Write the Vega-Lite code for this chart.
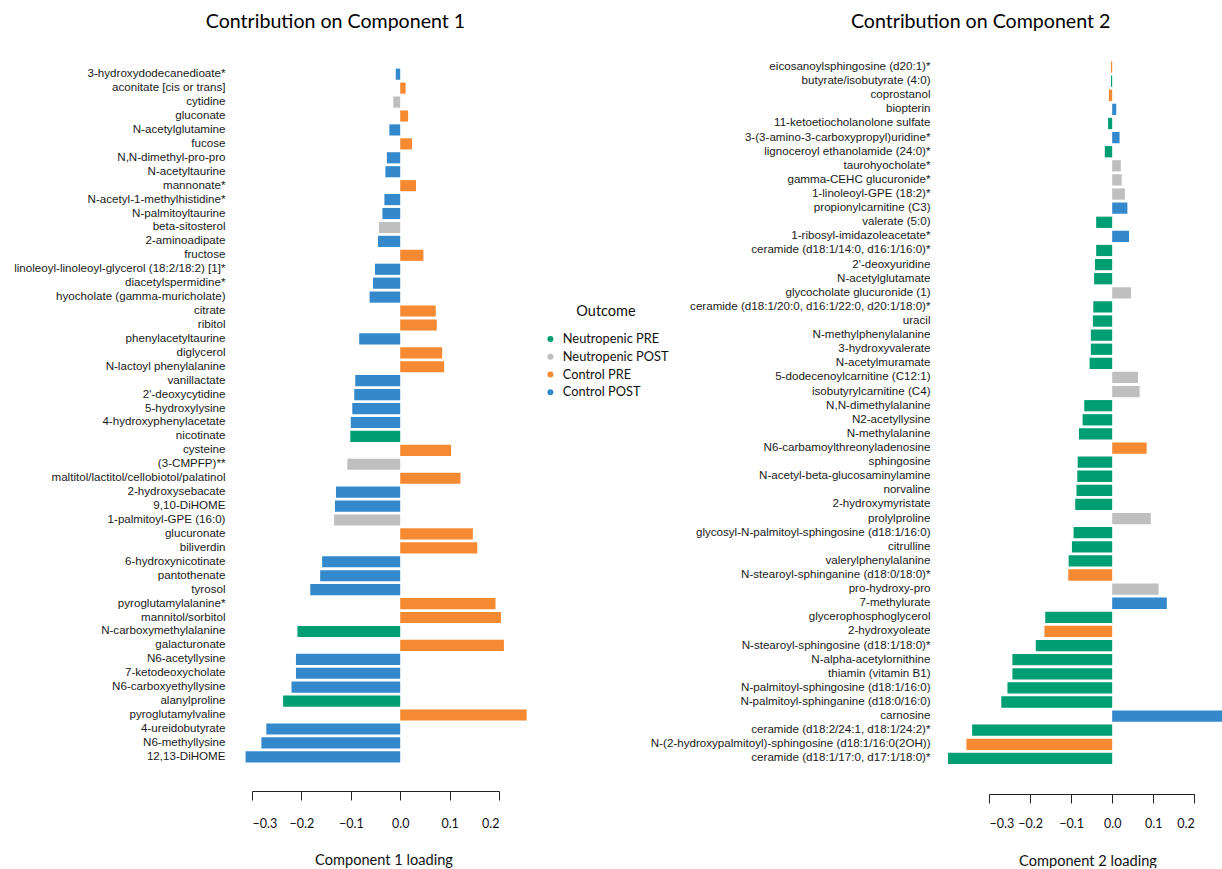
{
  "$schema": "https://vega.github.io/schema/vega-lite/v6.json",
  "padding": {"left": 13, "top": 11, "right": 0, "bottom": 0},
  "background": "white",
  "bounds": "flush",
  "spacing": 490,
  "config": {
    "view": {"stroke": null},
    "axis": {"grid": false},
    "title": {"font": "Lato", "fontSize": 19.6, "fontWeight": "normal", "color": "black"}
  },
  "datasets": {
    "comp1": [
      {"name": "3-hydroxydodecanedioate*", "loading": -0.009, "outcome": "Control POST"},
      {"name": "aconitate [cis or trans]", "loading": 0.011, "outcome": "Control PRE"},
      {"name": "cytidine", "loading": -0.014, "outcome": "Neutropenic POST"},
      {"name": "gluconate", "loading": 0.016, "outcome": "Control PRE"},
      {"name": "N-acetylglutamine", "loading": -0.022, "outcome": "Control POST"},
      {"name": "fucose", "loading": 0.024, "outcome": "Control PRE"},
      {"name": "N,N-dimethyl-pro-pro", "loading": -0.027, "outcome": "Control POST"},
      {"name": "N-acetyltaurine", "loading": -0.030, "outcome": "Control POST"},
      {"name": "mannonate*", "loading": 0.032, "outcome": "Control PRE"},
      {"name": "N-acetyl-1-methylhistidine*", "loading": -0.032, "outcome": "Control POST"},
      {"name": "N-palmitoyltaurine", "loading": -0.036, "outcome": "Control POST"},
      {"name": "beta-sitosterol", "loading": -0.043, "outcome": "Neutropenic POST"},
      {"name": "2-aminoadipate", "loading": -0.045, "outcome": "Control POST"},
      {"name": "fructose", "loading": 0.047, "outcome": "Control PRE"},
      {"name": "linoleoyl-linoleoyl-glycerol (18:2/18:2) [1]*", "loading": -0.051, "outcome": "Control POST"},
      {"name": "diacetylspermidine*", "loading": -0.055, "outcome": "Control POST"},
      {"name": "hyocholate (gamma-muricholate)", "loading": -0.062, "outcome": "Control POST"},
      {"name": "citrate", "loading": 0.072, "outcome": "Control PRE"},
      {"name": "ribitol", "loading": 0.074, "outcome": "Control PRE"},
      {"name": "phenylacetyltaurine", "loading": -0.083, "outcome": "Control POST"},
      {"name": "diglycerol", "loading": 0.085, "outcome": "Control PRE"},
      {"name": "N-lactoyl phenylalanine", "loading": 0.089, "outcome": "Control PRE"},
      {"name": "vanillactate", "loading": -0.091, "outcome": "Control POST"},
      {"name": "2'-deoxycytidine", "loading": -0.093, "outcome": "Control POST"},
      {"name": "5-hydroxylysine", "loading": -0.097, "outcome": "Control POST"},
      {"name": "4-hydroxyphenylacetate", "loading": -0.100, "outcome": "Control POST"},
      {"name": "nicotinate", "loading": -0.101, "outcome": "Neutropenic PRE"},
      {"name": "cysteine", "loading": 0.103, "outcome": "Control PRE"},
      {"name": "(3-CMPFP)**", "loading": -0.107, "outcome": "Neutropenic POST"},
      {"name": "maltitol/lactitol/cellobiotol/palatinol", "loading": 0.122, "outcome": "Control PRE"},
      {"name": "2-hydroxysebacate", "loading": -0.130, "outcome": "Control POST"},
      {"name": "9,10-DiHOME", "loading": -0.132, "outcome": "Control POST"},
      {"name": "1-palmitoyl-GPE (16:0)", "loading": -0.134, "outcome": "Neutropenic POST"},
      {"name": "glucuronate", "loading": 0.147, "outcome": "Control PRE"},
      {"name": "biliverdin", "loading": 0.156, "outcome": "Control PRE"},
      {"name": "6-hydroxynicotinate", "loading": -0.158, "outcome": "Control POST"},
      {"name": "pantothenate", "loading": -0.162, "outcome": "Control POST"},
      {"name": "tyrosol", "loading": -0.182, "outcome": "Control POST"},
      {"name": "pyroglutamylalanine*", "loading": 0.193, "outcome": "Control PRE"},
      {"name": "mannitol/sorbitol", "loading": 0.204, "outcome": "Control PRE"},
      {"name": "N-carboxymethylalanine", "loading": -0.208, "outcome": "Neutropenic PRE"},
      {"name": "galacturonate", "loading": 0.210, "outcome": "Control PRE"},
      {"name": "N6-acetyllysine", "loading": -0.211, "outcome": "Control POST"},
      {"name": "7-ketodeoxycholate", "loading": -0.211, "outcome": "Control POST"},
      {"name": "N6-carboxyethyllysine", "loading": -0.220, "outcome": "Control POST"},
      {"name": "alanylproline", "loading": -0.237, "outcome": "Neutropenic PRE"},
      {"name": "pyroglutamylvaline", "loading": 0.256, "outcome": "Control PRE"},
      {"name": "4-ureidobutyrate", "loading": -0.271, "outcome": "Control POST"},
      {"name": "N6-methyllysine", "loading": -0.281, "outcome": "Control POST"},
      {"name": "12,13-DiHOME", "loading": -0.313, "outcome": "Control POST"}
    ],
    "comp2": [
      {"name": "eicosanoylsphingosine (d20:1)*", "loading": -0.003, "outcome": "Control PRE"},
      {"name": "butyrate/isobutyrate (4:0)", "loading": -0.003, "outcome": "Neutropenic PRE"},
      {"name": "coprostanol", "loading": -0.008, "outcome": "Control PRE"},
      {"name": "biopterin", "loading": 0.010, "outcome": "Control POST"},
      {"name": "11-ketoetiocholanolone sulfate", "loading": -0.010, "outcome": "Neutropenic PRE"},
      {"name": "3-(3-amino-3-carboxypropyl)uridine*", "loading": 0.018, "outcome": "Control POST"},
      {"name": "lignoceroyl ethanolamide (24:0)*", "loading": -0.018, "outcome": "Neutropenic PRE"},
      {"name": "taurohyocholate*", "loading": 0.021, "outcome": "Neutropenic POST"},
      {"name": "gamma-CEHC glucuronide*", "loading": 0.023, "outcome": "Neutropenic POST"},
      {"name": "1-linoleoyl-GPE (18:2)*", "loading": 0.031, "outcome": "Neutropenic POST"},
      {"name": "propionylcarnitine (C3)", "loading": 0.037, "outcome": "Control POST"},
      {"name": "valerate (5:0)", "loading": -0.039, "outcome": "Neutropenic PRE"},
      {"name": "1-ribosyl-imidazoleacetate*", "loading": 0.041, "outcome": "Control POST"},
      {"name": "ceramide (d18:1/14:0, d16:1/16:0)*", "loading": -0.039, "outcome": "Neutropenic PRE"},
      {"name": "2'-deoxyuridine", "loading": -0.042, "outcome": "Neutropenic PRE"},
      {"name": "N-acetylglutamate", "loading": -0.044, "outcome": "Neutropenic PRE"},
      {"name": "glycocholate glucuronide (1)", "loading": 0.046, "outcome": "Neutropenic POST"},
      {"name": "ceramide (d18:1/20:0, d16:1/22:0, d20:1/18:0)*", "loading": -0.046, "outcome": "Neutropenic PRE"},
      {"name": "uracil", "loading": -0.047, "outcome": "Neutropenic PRE"},
      {"name": "N-methylphenylalanine", "loading": -0.052, "outcome": "Neutropenic PRE"},
      {"name": "3-hydroxyvalerate", "loading": -0.052, "outcome": "Neutropenic PRE"},
      {"name": "N-acetylmuramate", "loading": -0.055, "outcome": "Neutropenic PRE"},
      {"name": "5-dodecenoylcarnitine (C12:1)", "loading": 0.063, "outcome": "Neutropenic POST"},
      {"name": "isobutyrylcarnitine (C4)", "loading": 0.067, "outcome": "Neutropenic POST"},
      {"name": "N,N-dimethylalanine", "loading": -0.068, "outcome": "Neutropenic PRE"},
      {"name": "N2-acetyllysine", "loading": -0.072, "outcome": "Neutropenic PRE"},
      {"name": "N-methylalanine", "loading": -0.081, "outcome": "Neutropenic PRE"},
      {"name": "N6-carbamoylthreonyladenosine", "loading": 0.084, "outcome": "Control PRE"},
      {"name": "sphingosine", "loading": -0.084, "outcome": "Neutropenic PRE"},
      {"name": "N-acetyl-beta-glucosaminylamine", "loading": -0.085, "outcome": "Neutropenic PRE"},
      {"name": "norvaline", "loading": -0.087, "outcome": "Neutropenic PRE"},
      {"name": "2-hydroxymyristate", "loading": -0.090, "outcome": "Neutropenic PRE"},
      {"name": "prolylproline", "loading": 0.094, "outcome": "Neutropenic POST"},
      {"name": "glycosyl-N-palmitoyl-sphingosine (d18:1/16:0)", "loading": -0.094, "outcome": "Neutropenic PRE"},
      {"name": "citrulline", "loading": -0.098, "outcome": "Neutropenic PRE"},
      {"name": "valerylphenylalanine", "loading": -0.106, "outcome": "Neutropenic PRE"},
      {"name": "N-stearoyl-sphinganine (d18:0/18:0)*", "loading": -0.107, "outcome": "Control PRE"},
      {"name": "pro-hydroxy-pro", "loading": 0.113, "outcome": "Neutropenic POST"},
      {"name": "7-methylurate", "loading": 0.133, "outcome": "Control POST"},
      {"name": "glycerophosphoglycerol", "loading": -0.163, "outcome": "Neutropenic PRE"},
      {"name": "2-hydroxyoleate", "loading": -0.165, "outcome": "Control PRE"},
      {"name": "N-stearoyl-sphingosine (d18:1/18:0)*", "loading": -0.186, "outcome": "Neutropenic PRE"},
      {"name": "N-alpha-acetylornithine", "loading": -0.243, "outcome": "Neutropenic PRE"},
      {"name": "thiamin (vitamin B1)", "loading": -0.243, "outcome": "Neutropenic PRE"},
      {"name": "N-palmitoyl-sphingosine (d18:1/16:0)", "loading": -0.255, "outcome": "Neutropenic PRE"},
      {"name": "N-palmitoyl-sphinganine (d18:0/16:0)", "loading": -0.270, "outcome": "Neutropenic PRE"},
      {"name": "carnosine", "loading": 0.280, "outcome": "Control POST"},
      {"name": "ceramide (d18:2/24:1, d18:1/24:2)*", "loading": -0.341, "outcome": "Neutropenic PRE"},
      {"name": "N-(2-hydroxypalmitoyl)-sphingosine (d18:1/16:0(2OH))", "loading": -0.355, "outcome": "Control PRE"},
      {"name": "ceramide (d18:1/17:0, d17:1/18:0)*", "loading": -0.400, "outcome": "Neutropenic PRE"}
    ]
  },
  "resolve": {
    "scale": {"x": "independent", "y": "independent", "color": "independent"},
    "legend": {"color": "independent"}
  },
  "hconcat": [
    {
      "data": {"name": "comp1"},
      "title": {"text": "Contribution on Component 1", "frame": "group", "anchor": "middle", "dx": -40, "offset": 27.5},
      "width": 247,
      "height": 702.4,
      "mark": {"type": "bar"},
      "encoding": {
        "y": {
          "field": "name", "type": "nominal", "sort": null,
          "scale": {"paddingInner": 0.2, "paddingOuter": 0.31, "align": 1, "round": false},
          "axis": {"title": null, "domain": false, "ticks": false, "labelPadding": 27, "labelLimit": 500,
                   "labelFont": "Liberation Sans", "labelFontSize": 11.6, "labelColor": "#1a1a1a"}
        },
        "x": {
          "field": "loading", "type": "quantitative",
          "scale": {"domain": [-0.3, 0.2], "nice": false, "zero": false, "round": false},
          "axis": {"title": "Component 1 loading", "values": [-0.3, -0.2, -0.1, 0, 0.1, 0.2], "format": ".1f",
                   "offset": 28.6, "domainColor": "#222", "domainWidth": 1, "tickColor": "#222", "tickSize": 9, "tickWidth": 1,
                   "labelFont": "Lato", "labelFontSize": 12.5, "labelColor": "#111", "labelPadding": 17,
                   "titleFont": "Lato", "titleFontSize": 14.6, "titleFontWeight": "normal", "titleColor": "#111", "titlePadding": 23, "titleX": 131.5}
        },
        "color": {
          "field": "outcome", "type": "nominal",
          "scale": {"domain": ["Neutropenic PRE", "Neutropenic POST", "Control PRE", "Control POST"],
                    "range": ["#009E73", "#BFBFBF", "#F68A32", "#3389CB"]},
          "legend": {"title": "Outcome", "orient": "none", "legendX": 292, "legendY": 245, "padding": 0,
                     "symbolType": "circle", "symbolSize": 36, "symbolStrokeWidth": 0,
                     "titleFont": "Lato", "titleFontSize": 14.5, "titleFontWeight": "normal", "titleColor": "#111",
                     "titleAnchor": "middle", "titlePadding": 13,
                     "labelFont": "Lato", "labelFontSize": 12.8, "labelColor": "#111", "labelOffset": 6, "rowPadding": 3.8}
        }
      }
    },
    {
      "data": {"name": "comp2"},
      "title": {"text": "Contribution on Component 2", "frame": "group", "anchor": "middle", "dx": -111, "offset": 27.5},
      "width": 205.3,
      "height": 705.5,
      "mark": {"type": "bar"},
      "encoding": {
        "y": {
          "field": "name", "type": "nominal", "sort": null,
          "scale": {"paddingInner": 0.2, "paddingOuter": 0.1, "align": 0.5, "round": false},
          "axis": {"title": null, "domain": false, "ticks": false, "labelPadding": 59, "labelLimit": 500,
                   "labelFont": "Liberation Sans", "labelFontSize": 11.6, "labelColor": "#1a1a1a"}
        },
        "x": {
          "field": "loading", "type": "quantitative",
          "scale": {"domain": [-0.3, 0.2], "nice": false, "zero": false, "round": false},
          "axis": {"title": "Component 2 loading", "values": [-0.3, -0.2, -0.1, 0, 0.1, 0.2], "format": ".1f",
                   "offset": 28.5, "domainColor": "#222", "domainWidth": 1, "tickColor": "#222", "tickSize": 9, "tickWidth": 1,
                   "labelFont": "Lato", "labelFontSize": 12.5, "labelColor": "#111", "labelPadding": 14.5,
                   "titleFont": "Lato", "titleFontSize": 14.6, "titleFontWeight": "normal", "titleColor": "#111", "titlePadding": 23, "titleX": 98.5}
        },
        "color": {
          "field": "outcome", "type": "nominal",
          "scale": {"domain": ["Neutropenic PRE", "Neutropenic POST", "Control PRE", "Control POST"],
                    "range": ["#009E73", "#BFBFBF", "#F68A32", "#3389CB"]},
          "legend": null
        }
      }
    }
  ]
}
